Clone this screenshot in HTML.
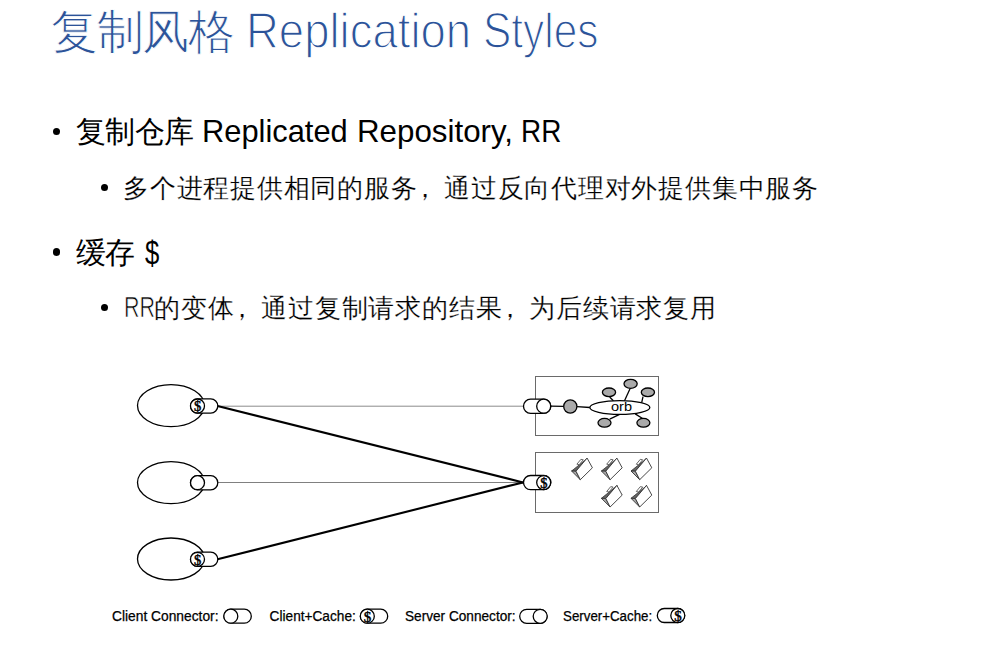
<!DOCTYPE html>
<html><head><meta charset="utf-8">
<style>
html,body{margin:0;padding:0;background:#fff;}
body{width:988px;height:659px;position:relative;overflow:hidden;font-family:"Liberation Sans",sans-serif;}
.t{position:absolute;white-space:nowrap;line-height:1;transform-origin:0 0;}
.ti{color:#2C5399;-webkit-text-stroke:1.4px #fff;}
.k{color:#000;}
.k2{-webkit-text-stroke:0.2px #fff;}
.cm{position:relative;left:-5px;}
.b{position:absolute;border-radius:50%;background:#000;}
svg{position:absolute;left:0;top:0;}
</style></head><body>
<div class="t ti" style="left:51px;top:7.5px;font-size:47px;letter-spacing:-1.3px;-webkit-text-stroke:0.9px #fff">复制风格</div>
<div class="t ti" style="left:246px;top:6px;font-size:50px;transform:scaleX(0.910)">Replication</div>
<div class="t ti" style="left:483px;top:6px;font-size:50px;transform:scaleX(0.848)">Styles</div>

<div class="b" style="left:52.8px;top:127.8px;width:7.4px;height:7.4px"></div>
<div class="t k" style="left:76px;top:117px;font-size:30px;letter-spacing:-0.6px">复制仓库</div>
<div class="t k" style="left:202px;top:117px;font-size:30.7px;transform:scaleX(1.005)">Replicated</div>
<div class="t k" style="left:356.9px;top:117px;font-size:30.7px;transform:scaleX(1.02)">Repository,</div>
<div class="t k" style="left:520.8px;top:117px;font-size:30.7px;transform:scaleX(0.91)">RR</div>

<div class="b" style="left:100.6px;top:183.9px;width:7.2px;height:7.2px"></div>
<div class="t k k2" style="left:123px;top:175px;font-size:26px;letter-spacing:0.76px">多个进程提供相同的服务<span class="cm">，</span>通过反向代理对外提供集中服务</div>

<div class="b" style="left:52.8px;top:248.3px;width:7.4px;height:7.4px"></div>
<div class="t k" style="left:76px;top:238px;font-size:30px;letter-spacing:-0.6px">缓存</div>
<div class="t k" style="left:145px;top:235.5px;font-size:33px;transform:scaleX(0.78)">$</div>

<div class="b" style="left:100.5px;top:303.9px;width:7.2px;height:7.2px"></div>
<div class="t k" style="left:124px;top:292.5px;font-size:29px;transform:scaleX(0.74);-webkit-text-stroke:0.7px #fff">RR</div>
<div class="t k k2" style="left:154px;top:295px;font-size:26px;letter-spacing:0.8px">的变体<span class="cm">，</span>通过复制请求的结果<span class="cm">，</span>为后续请求复用</div>

<svg width="988" height="659" viewBox="0 0 988 659">
<g fill="#fff" stroke="#000" stroke-width="1.3">
<ellipse cx="171" cy="405.6" rx="33.5" ry="21"/>
<ellipse cx="171" cy="482.6" rx="33.5" ry="21"/>
<ellipse cx="171" cy="559" rx="33.5" ry="21"/>
</g>
<g stroke="#8c8c8c" stroke-width="1">
<line x1="217.5" y1="406.2" x2="524" y2="406.2"/>
<line x1="217.5" y1="482.5" x2="524" y2="482.5" stroke="#808080"/>
</g>
<g stroke="#000" stroke-width="2.1" stroke-linecap="round">
<line x1="217.5" y1="406" x2="523" y2="482.4"/>
<line x1="217.5" y1="559.3" x2="523" y2="482.4"/>
</g>
<g fill="none" stroke="#6a6a6a" stroke-width="1">
<rect x="535.5" y="376.5" width="123" height="59"/>
<rect x="535.5" y="452.5" width="123" height="60"/>
</g>
<g fill="#fff" stroke="#000" stroke-width="1.3">
<rect x="190.5" y="398.9" width="27.3" height="14.2" rx="7.1"/>
<circle cx="197.5" cy="406" r="7"/>
<rect x="190.5" y="475.6" width="27.3" height="14.2" rx="7.1"/>
<circle cx="197.5" cy="482.7" r="7"/>
<rect x="190.5" y="552.2" width="27.3" height="14.2" rx="7.1"/>
<circle cx="197.5" cy="559.3" r="7"/>
<rect x="523.5" y="399.1" width="27.3" height="14.2" rx="7.1"/>
<circle cx="543.7" cy="406.2" r="7"/>
<rect x="523.5" y="475.5" width="27.3" height="14.2" rx="7.1"/>
<circle cx="543.7" cy="482.6" r="7"/>
</g>
<g font-family="Liberation Serif" font-size="14.5" text-anchor="middle" fill="#000" stroke="#000" stroke-width="0.45">
<text x="197.6" y="411.2">$</text>
<text x="197.6" y="564.5">$</text>
<text x="543.8" y="487.8">$</text>
</g>
<g stroke="#000" stroke-width="1.3">
<line x1="550.7" y1="406.2" x2="563.6" y2="406.4"/>
<line x1="577" y1="406.6" x2="590" y2="407.5"/>
<line x1="609.7" y1="397" x2="613.5" y2="401"/>
<line x1="630" y1="388.8" x2="624.4" y2="401"/>
<line x1="643" y1="396.6" x2="641.7" y2="402.7"/>
<line x1="609.7" y1="419.1" x2="619.6" y2="414.4"/>
<line x1="635.2" y1="413.9" x2="643" y2="418.7"/>
</g>
<g fill="#aaa" stroke="#000" stroke-width="1.3">
<circle cx="570.3" cy="406.5" r="6.6"/>
<ellipse cx="609" cy="392.3" rx="6.6" ry="4.3"/>
<ellipse cx="630.6" cy="383.8" rx="6.6" ry="4.5"/>
<ellipse cx="647.9" cy="392.3" rx="6.6" ry="4.3"/>
<ellipse cx="604.5" cy="422.8" rx="6.5" ry="4.4"/>
<ellipse cx="643.4" cy="422.8" rx="6.5" ry="4.4"/>
</g>
<ellipse cx="619.85" cy="407.5" rx="30" ry="6.9" fill="#fff" stroke="#000" stroke-width="1.3"/>
<text x="611" y="410.6" font-family="Liberation Sans" font-size="13.5" fill="#000" textLength="21" lengthAdjust="spacingAndGlyphs">orb</text>
<defs>
<g id="fold">
<path d="M0 12.9 L14 1.7 L15.5 0 L4.4 13.1 Z" fill="#666" stroke="#333" stroke-width="0.8" stroke-linejoin="round"/>
<path d="M0 12.9 L4.4 13.1 L8.7 21.6 Z" fill="#aaa" stroke="#333" stroke-width="0.9" stroke-linejoin="round"/>
<path d="M4.4 13.1 L15.5 0 L20.8 9.7 L8.7 21.6 Z" fill="#fff" stroke="#333" stroke-width="0.9" stroke-linejoin="round"/>
<path d="M5.3 6.1 L9.3 1.25 L11.7 1.67 L7.6 6.6 Z" fill="#fff" stroke="#444" stroke-width="0.8"/>
</g>
</defs>
<use href="#fold" x="571.6" y="458.1"/>
<use href="#fold" x="601.4" y="458.1"/>
<use href="#fold" x="631" y="458.1"/>
<use href="#fold" x="601.4" y="485.4"/>
<use href="#fold" x="631" y="485.4"/>
<g font-family="Liberation Sans" font-size="13.8" fill="#000" stroke="#000" stroke-width="0.25">
<text x="112" y="620.5" textLength="106.5" lengthAdjust="spacingAndGlyphs">Client Connector:</text>
<text x="269.6" y="620.5" textLength="86.2" lengthAdjust="spacingAndGlyphs">Client+Cache:</text>
<text x="405" y="620.5" textLength="110.6" lengthAdjust="spacingAndGlyphs">Server Connector:</text>
<text x="563" y="620.5" textLength="89.2" lengthAdjust="spacingAndGlyphs">Server+Cache:</text>
</g>
<g fill="#fff" stroke="#000" stroke-width="1.3">
<rect x="224" y="609.2" width="27.3" height="14" rx="7"/>
<circle cx="230.8" cy="616.2" r="7"/>
<rect x="360.4" y="609.2" width="27.3" height="14" rx="7"/>
<circle cx="367.3" cy="616.2" r="7"/>
<rect x="519.7" y="609.3" width="27.3" height="14" rx="7"/>
<circle cx="540.2" cy="616.3" r="7"/>
<rect x="657.3" y="608.5" width="27.3" height="14" rx="7"/>
<circle cx="677.8" cy="615.5" r="7"/>
</g>
<g font-family="Liberation Serif" font-size="15" text-anchor="middle" fill="#000" stroke="#000" stroke-width="0.45">
<text x="367.4" y="621.6">$</text>
<text x="677.9" y="620.9">$</text>
</g>
</svg>
</body></html>
